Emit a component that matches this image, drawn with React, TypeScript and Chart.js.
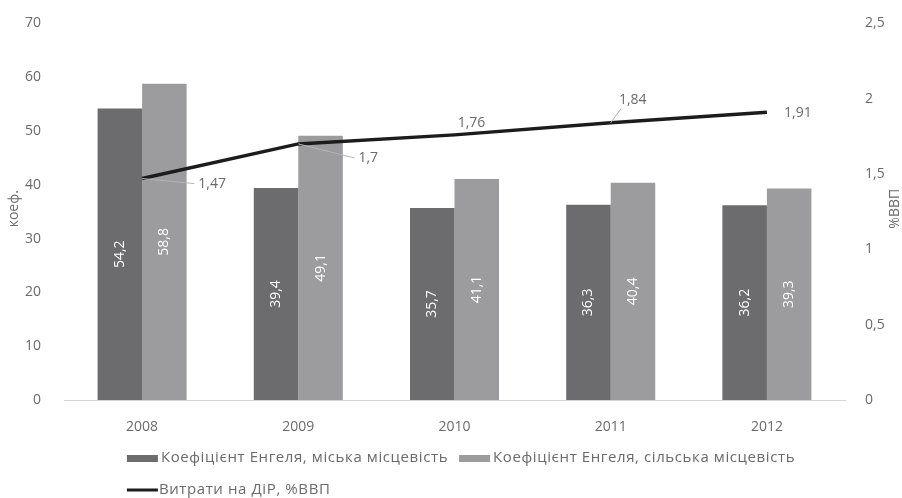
import React, { useEffect, useRef } from "react";
import { Chart, registerables } from "chart.js";

Chart.register(...registerables);

const years = ["2008", "2009", "2010", "2011", "2012"];
const urbanEngel = [54.2, 39.4, 35.7, 36.3, 36.2];
const ruralEngel = [58.8, 49.1, 41.1, 40.4, 39.3];
const rndSpending = [1.47, 1.7, 1.76, 1.84, 1.91];

const urbanLabel = "Коефіцієнт Енгеля, міська місцевість";
const ruralLabel = "Коефіцієнт Енгеля, сільська місцевість";
const rndLabel = "Витрати на ДіР, %ВВП";
const leftTitle = "коеф.";
const rightTitle = "%ВВП";

// label placement offsets for the line labels (dx, dy, leader)
const lineLabelOffsets = [
  { dx: 70, dy: 5, leader: true },
  { dx: 70, dy: 14, leader: true },
  { dx: 17, dy: -12, leader: false },
  { dx: 22, dy: -23, leader: true },
  { dx: 31, dy: 1, leader: false },
];

const DARK = "#6c6c6f";
const LIGHT = "#9c9c9e";
const LINE = "#1c1c1c";
const TEXT = "#6a6a6a";
const FONT = "'Open Sans', 'Liberation Sans', sans-serif";
const FS = 14;

const fmt = (v: number) => String(v).replace(".", ",");

const customPlugin = {
  id: "custom",
  afterDatasetsDraw(chart: any) {
    const ctx = chart.ctx;
    ctx.save();
    // bar labels
    ctx.font = `${FS}px ${FONT}`;
    ctx.fillStyle = "#ffffff";
    ctx.textAlign = "center";
    ctx.textBaseline = "middle";
    [0, 1].forEach((di) => {
      const meta = chart.getDatasetMeta(di);
      meta.data.forEach((bar: any, i: number) => {
        const v = chart.data.datasets[di].data[i];
        const cy = (bar.y + bar.base) / 2;
        ctx.save();
        ctx.translate(bar.x, cy);
        ctx.rotate(-Math.PI / 2);
        ctx.fillText(fmt(v), 0, 0);
        ctx.restore();
      });
    });
    // line labels
    const lmeta = chart.getDatasetMeta(2);
    lmeta.data.forEach((pt: any, i: number) => {
      const o = lineLabelOffsets[i];
      const v = chart.data.datasets[2].data[i];
      const text = fmt(v);
      const w = ctx.measureText(text).width;
      const lx = pt.x + o.dx;
      const ly = pt.y + o.dy;
      if (o.leader) {
        ctx.strokeStyle = "#b5b5b5";
        ctx.lineWidth = 1;
        ctx.beginPath();
        ctx.moveTo(pt.x, pt.y);
        if (o.dy < 0) {
          ctx.lineTo(lx - w / 2 + 2, ly + 9);
        } else {
          ctx.lineTo(lx - w / 2 - 4, ly);
        }
        ctx.stroke();
      }
      ctx.fillStyle = TEXT;
      ctx.fillText(text, lx, ly);
    });
    ctx.restore();
  },
  afterDraw(chart: any) {
    const ctx = chart.ctx;
    const area = chart.chartArea;
    ctx.save();
    ctx.font = `${FS}px ${FONT}`;
    ctx.fillStyle = TEXT;
    ctx.textAlign = "center";
    ctx.textBaseline = "middle";
    const cy = (area.top + area.bottom) / 2 - 3;
    // axis titles
    ctx.save();
    ctx.translate(14, cy);
    ctx.rotate(-Math.PI / 2);
    ctx.fillText(leftTitle, 0, 0);
    ctx.restore();
    ctx.save();
    ctx.translate(895, cy);
    ctx.rotate(-Math.PI / 2);
    ctx.fillText(rightTitle, 0, 0);
    ctx.restore();

    // legend
    ctx.font = `15px ${FONT}`;
    try {
      (ctx as any).letterSpacing = "0.6px";
    } catch (e) {}
    ctx.textAlign = "left";
    const boxW = 31;
    const gap = 3;
    const itemGap = 11;
    const w1 = ctx.measureText(urbanLabel).width;
    const w2 = ctx.measureText(ruralLabel).width;
    const rowW = boxW + gap + w1 + itemGap + boxW + gap + w2;
    const startX = 461 - rowW / 2;
    const row1 = 458;
    const row2 = 490;
    let x = startX;
    ctx.fillStyle = DARK;
    ctx.fillRect(x, row1 - 3, boxW, 7);
    x += boxW + gap;
    ctx.fillStyle = TEXT;
    ctx.fillText(urbanLabel, x, row1);
    x += w1 + itemGap;
    ctx.fillStyle = LIGHT;
    ctx.fillRect(x, row1 - 3, boxW, 7);
    x += boxW + gap;
    ctx.fillStyle = TEXT;
    ctx.fillText(ruralLabel, x, row1);
    // row 2
    ctx.strokeStyle = LINE;
    ctx.lineWidth = 3;
    ctx.beginPath();
    ctx.moveTo(startX, row2);
    ctx.lineTo(startX + boxW, row2);
    ctx.stroke();
    ctx.fillText(rndLabel, startX + boxW + 1, row2);
    ctx.restore();
  },
};

export default function App() {
  const ref = useRef<HTMLCanvasElement | null>(null);
  useEffect(() => {
    if (!ref.current) return;
    const chart = new Chart(ref.current, {
      type: "bar",
      data: {
        labels: years,
        datasets: [
          {
            type: "bar",
            label: urbanLabel,
            data: urbanEngel,
            backgroundColor: DARK,
            yAxisID: "y",
            order: 2,
            barPercentage: 1,
            categoryPercentage: 0.57,
          },
          {
            type: "bar",
            label: ruralLabel,
            data: ruralEngel,
            backgroundColor: LIGHT,
            yAxisID: "y",
            order: 2,
            barPercentage: 1,
            categoryPercentage: 0.57,
          },
          {
            type: "line",
            label: rndLabel,
            data: rndSpending,
            borderColor: LINE,
            borderWidth: 3.5,
            pointRadius: 0,
            yAxisID: "y1",
            order: 0,
            tension: 0,
          },
        ] as any,
      },
      options: {
        animation: false,
        responsive: false,
        layout: { padding: { top: 21, left: 0, right: 0, bottom: 0 } },
        plugins: { legend: { display: false }, tooltip: { enabled: false } },
        scales: {
          x: {
            grid: { display: false },
            border: { display: true, color: "#d4d4d4", width: 1 },
            ticks: { color: TEXT, font: { family: FONT, size: FS }, padding: 11 },
            afterFit: (s: any) => {
              s.height = 98;
            },
          },
          y: {
            position: "left",
            min: 0,
            max: 70,
            grid: { display: false },
            border: { display: false },
            ticks: { stepSize: 10, color: TEXT, font: { family: FONT, size: FS }, padding: 15 },
            afterFit: (s: any) => {
              s.width = 64;
            },
          },
          y1: {
            position: "right",
            min: 0,
            max: 2.5,
            grid: { display: false },
            border: { display: false },
            ticks: {
              stepSize: 0.5,
              color: TEXT,
              font: { family: FONT, size: FS },
              padding: 12,
              callback: (v: any) => fmt(Number(v)),
            },
            afterFit: (s: any) => {
              s.width = 57;
            },
          },
        },
      } as any,
      plugins: [customPlugin],
    });
    return () => chart.destroy();
  }, []);
  return (
    <div style={{ position: "absolute", left: 0, top: 0, width: 902, height: 498, background: "#fff" }}>
      <canvas ref={ref} width={902} height={498} />
    </div>
  );
}
